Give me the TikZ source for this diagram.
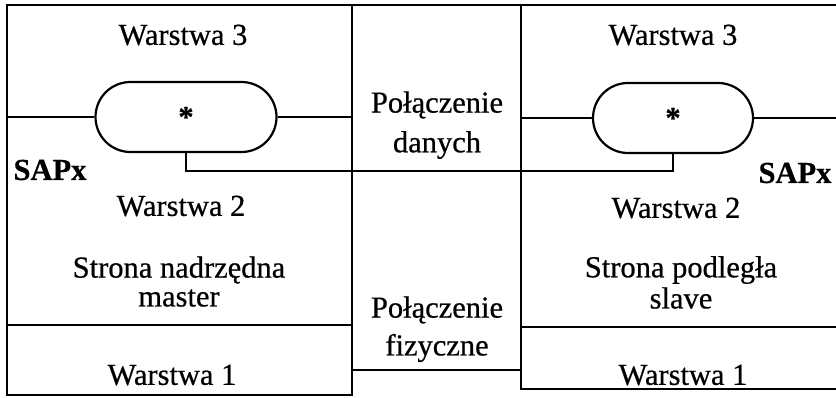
\documentclass[tikz,border=0pt]{standalone}
\usepackage{fontspec}
\setmainfont{Liberation Serif}[FakeBold=0.6]
\usetikzlibrary{shapes.misc}
\begin{document}
\begin{tikzpicture}[x=1pt,y=-1pt,
  frame/.style={line width=2.8pt},
  capsule/.style={draw, rounded rectangle, line width=2.2pt, minimum height=70pt, inner sep=0pt, font=\fontsize{30.5}{36}\selectfont\bfseries},
  lbl/.style={font=\fontsize{30.5}{36}\selectfont, align=center, inner sep=0pt},
  blbl/.style={font=\fontsize{30.5}{36}\selectfont\bfseries, inner sep=0pt}]
\useasboundingbox (0,0) rectangle (836,398);
% frames
\draw[frame] (7,5) rectangle (352,395);
\draw[frame] (7,325) -- (352,325);
\draw[frame] (836,5) -- (521,5) -- (521,389) -- (836,389);
\draw[frame] (521,327) -- (836,327);
\draw[frame] (352,5) -- (521,5);
\draw[frame] (352,370) -- (521,370);
% capsules
\node[capsule, minimum width=181pt] (capL) at (186,117) {*};
\node[capsule, minimum width=160pt] (capR) at (673,118) {*};
\coordinate (lw) at (7,117);
\coordinate (le) at (352,117);
\coordinate (rw) at (521,118);
\coordinate (re) at (836,118);
\coordinate (jL) at (186,171);
\coordinate (jR) at (673,171);
\draw[frame] (lw) -- (capL.west);
\draw[frame] (capL.east) -- (le);
\draw[frame] (rw) -- (capR.west);
\draw[frame] (capR.east) -- (re);
\draw[frame] (capL.south) -- (jL) -- (jR) -- (capR.south);
% labels
\node[lbl] (w3l) at (183,35) {Warstwa 3};
\node[lbl] (w3r) at (673,35) {Warstwa 3};
\node[blbl] (sapl) at (50,170) {SAPx};
\node[blbl] (sapr) at (795,173) {SAPx};
\node[lbl] (w2l) at (181,206) {Warstwa 2};
\node[lbl] (w2r) at (676,208) {Warstwa 2};
\node[lbl] (snl) at (179,270) {Strona nadrzędna};
\node[lbl] (msl) at (179,298) {master};
\node[lbl] (spr) at (681,270) {Strona podległa};
\node[lbl] (slr) at (681,298) {slave};
\node[lbl] (w1l) at (172,375) {Warstwa 1};
\node[lbl] (w1r) at (683,375) {Warstwa 1};
\node[lbl] (pd1) at (437,105) {Połączenie};
\node[lbl] (pd2) at (437,145) {danych};
\node[lbl] (pf1) at (437,310) {Połączenie};
\node[lbl] (pf2) at (437,348) {fizyczne};
\end{tikzpicture}
\end{document}
